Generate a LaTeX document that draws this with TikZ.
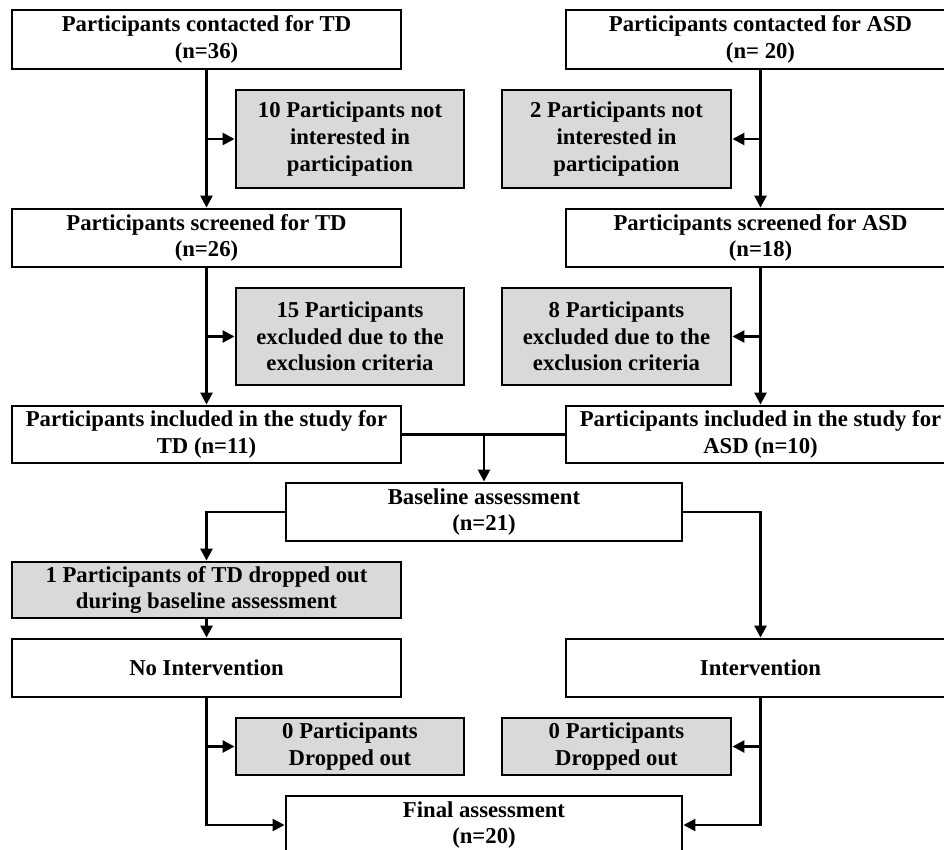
\documentclass[tikz,border=0pt]{standalone}
\usepackage{fontspec}
\setmainfont{Liberation Serif}
\usepackage{tikz}
\usetikzlibrary{positioning,arrows.meta}

\begin{document}
\begin{tikzpicture}[x=1pt, y=-1pt,
font=\fontsize{22.7}{26.7}\selectfont\bfseries,
plainnode/.style={rectangle, draw=black, fill=white, line width=2.9pt, align=center, inner sep=0pt, minimum height=58pt},
greynode/.style={rectangle, draw=black, fill=black!15, line width=2.9pt, align=center, inner sep=0pt},
arr/.style={line width=2.6pt, -{Triangle[length=12pt,width=12pt]}},
ln/.style={line width=2.6pt},
]
\useasboundingbox (0,0) rectangle (944,849);
\clip (0,0) rectangle (944,849);

%Nodes
\node[plainnode, minimum width=389pt, minimum height=59pt] (ContactTD)  at (206.5,39.5) {Participants contacted for TD\\(n=36)};
\node[plainnode, minimum width=389pt, minimum height=59pt] (ContactASD) at (760.5,39.5) {Participants contacted for ASD\\(n= 20)};
\node[greynode, minimum width=228pt, minimum height=98pt] (NotIntTD)  at (350,139)   {10 Participants not\\interested in\\participation};
\node[greynode, minimum width=229pt, minimum height=98pt] (NotIntASD) at (616.5,139) {2 Participants not\\interested in\\participation};
\node[plainnode, minimum width=389pt] (ScreenTD)  at (206.5,238) {Participants screened for TD\\(n=26)};
\node[plainnode, minimum width=389pt] (ScreenASD) at (760.5,238) {Participants screened for ASD\\(n=18)};
\node[greynode, minimum width=228pt, minimum height=97pt] (ExclTD)  at (350,336.5)   {15 Participants\\excluded due to the\\exclusion criteria};
\node[greynode, minimum width=229pt, minimum height=97pt] (ExclASD) at (616.5,336.5) {8 Participants\\excluded due to the\\exclusion criteria};
\node[plainnode, minimum width=389pt, minimum height=57pt] (InclTD)  at (206.5,434.5) {Participants included in the study for\\TD (n=11)};
\node[plainnode, minimum width=389pt, minimum height=57pt] (InclASD) at (760.5,434.5) {Participants included in the study for\\ASD (n=10)};
\node[plainnode, minimum width=396pt] (Baseline) at (484,512) {Baseline assessment\\(n=21)};
\node[greynode, minimum width=389pt, minimum height=56pt] (DropTD) at (206.5,590) {1 Participants of TD dropped out\\during baseline assessment};
\node[plainnode, minimum width=389pt] (NoInt) at (206.5,668) {No Intervention};
\node[plainnode, minimum width=389pt] (Int)   at (760.5,668) {Intervention};
\node[greynode, minimum width=228pt, minimum height=57pt] (ZeroTD)  at (350,746.5)   {0 Participants\\Dropped out};
\node[greynode, minimum width=229pt, minimum height=57pt] (ZeroASD) at (616.5,746.5) {0 Participants\\Dropped out};
\node[plainnode, minimum width=396pt] (Final) at (484,825) {Final assessment\\(n=20)};

%Lines
\draw[arr] (ContactTD.south) -- (ScreenTD.north);
\draw[arr] (ContactTD.south |- NotIntTD.west) -- (NotIntTD.west);
\draw[arr] (ContactASD.south) -- (ScreenASD.north);
\draw[arr] (ContactASD.south |- NotIntASD.east) -- (NotIntASD.east);
\draw[arr] (ScreenTD.south) -- (InclTD.north);
\draw[arr] (ScreenTD.south |- ExclTD.west) -- (ExclTD.west);
\draw[arr] (ScreenASD.south) -- (InclASD.north);
\draw[arr] (ScreenASD.south |- ExclASD.east) -- (ExclASD.east);
\draw[ln] (InclTD.east) -- (InclASD.west);
\draw[arr] (Baseline.north |- InclTD.east) -- (Baseline.north);
\draw[arr] (Baseline.west) -| (DropTD.north);
\draw[arr] (Baseline.east) -| (Int.north);
\draw[arr] (DropTD.south) -- (NoInt.north);
\draw[arr] (NoInt.south) |- (Final.west);
\draw[arr] (NoInt.south |- ZeroTD.west) -- (ZeroTD.west);
\draw[arr] (Int.south) |- (Final.east);
\draw[arr] (Int.south |- ZeroASD.east) -- (ZeroASD.east);
\end{tikzpicture}
\end{document}
